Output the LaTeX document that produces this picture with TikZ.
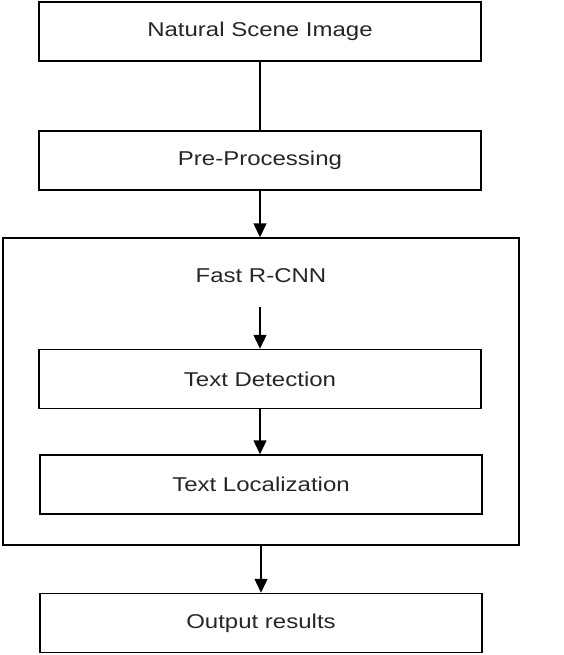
\documentclass[tikz,border=0pt]{standalone}
\usepackage{fontspec}
\setmainfont[FakeStretch=1.2]{Liberation Sans}
\usepackage{tikz}
\usetikzlibrary{arrows.meta}
\usetikzlibrary{positioning}
\definecolor{txtgray}{rgb}{.15,.15,.15}
\tikzset{stepbox/.style={rectangle,draw,line width=1.5pt,minimum width=442pt,minimum height=59pt,inner sep=0pt,text=txtgray},
  flow/.style={line width=1.5pt,-{Triangle[length=14pt,width=13pt]}}}
\begin{document}
\begin{tikzpicture}[x=1pt,y=-1pt,font=\fontsize{20}{23}\selectfont]
\useasboundingbox (0,0) rectangle (563,655);
\draw (260,31.5) node[stepbox] (input) {Natural Scene Image};
\draw (260,160.5) node[stepbox] (prep) {Pre-Processing};

\draw (261,391.5) node[rectangle,draw,line width=1.5pt,minimum width=516pt,minimum height=307pt,inner sep=0pt] (rcnn) {};
\draw (261,276) node[text=txtgray] (fast) {Fast R-CNN};
\draw (260,379) node[stepbox] (detect) {Text Detection};
\draw (261,484.5) node[stepbox] (locate) {Text Localization};

\draw (261,623) node[stepbox] (output) {Output results};

\draw[line width=1.5pt] (input) -- (prep);
\draw[flow] (prep) -- (rcnn.north -| prep);

\node[shape=coordinate] (fastout) at (260,307) {};
\draw[flow] (fastout) -- (detect);
\draw[flow] (detect) -- (locate.north -| detect);
\draw[flow] (rcnn.south) -- (output);
  \end{tikzpicture}
\end{document}
